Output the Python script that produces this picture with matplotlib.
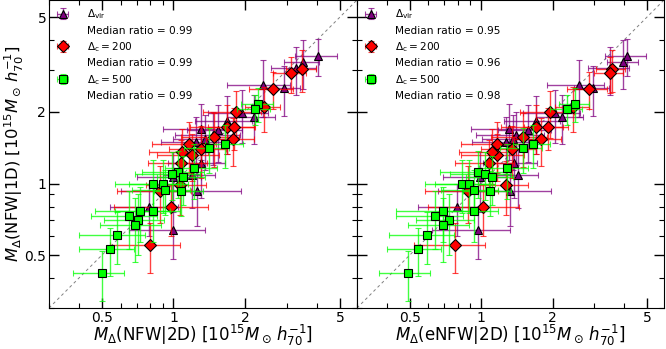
import matplotlib
matplotlib.use('Agg')
import matplotlib.pyplot as plt
from matplotlib.lines import Line2D
from matplotlib.ticker import FixedLocator, FixedFormatter, LogLocator, NullFormatter

# masses in 10^15 M_sun h70^-1, M(NFW|1D) is shared by both panels
vir_y = [3.43, 3.24, 3.06, 2.60, 2.52, 1.98, 1.91, 1.83, 1.70, 1.68, 1.60,
         1.54, 1.50, 1.22, 1.09, 1.06, 0.93, 0.80, 0.64]
vir_yerr = [0.60, 0.75, 0.70, 0.70, 0.60, 0.50, 0.45, 0.50, 0.45, 0.45, 0.40,
            0.40, 0.40, 0.35, 0.30, 0.30, 0.27, 0.20, 0.16]
vir_x_nfw = [4.04, 3.50, 3.27, 2.38, 2.91, 1.94, 2.18, 1.68, 1.30, 1.54, 1.46,
             1.35, 1.24, 1.30, 1.20, 1.00, 1.26, 0.79, 1.00]
vir_x_enfw = [4.14, 3.98, 3.51, 2.59, 2.96, 2.05, 2.20, 1.70, 1.31, 1.58, 1.40,
              1.36, 1.27, 1.37, 1.43, 0.99, 1.32, 0.79, 0.97]
vir_xerr = [0.80, 0.60, 0.70, 0.70, 0.50, 0.55, 0.50, 0.45, 0.40, 0.40, 0.45,
            0.35, 0.35, 0.35, 0.30, 0.30, 0.66, 0.25, 0.35]

c200_y = [3.03, 2.91, 2.50, 2.10, 2.00, 1.73, 1.73, 1.54, 1.57, 1.40, 1.46,
          1.32, 1.35, 1.22, 0.99, 0.93, 0.80, 0.55]
c200_yerr = [0.60, 0.50, 0.45, 0.45, 0.45, 0.40, 0.35, 0.35, 0.40, 0.35, 0.35,
             0.30, 0.35, 0.30, 0.25, 0.25, 0.20, 0.13]
c200_x_nfw = [3.47, 3.12, 2.62, 2.40, 1.83, 1.67, 1.80, 1.77, 1.48, 1.31, 1.16,
              1.20, 1.09, 1.08, 1.07, 0.88, 0.98, 0.80]
c200_x_enfw = [3.55, 3.48, 2.85, 2.44, 1.96, 1.71, 1.92, 1.78, 1.50, 1.35, 1.17,
               1.17, 1.11, 1.08, 1.27, 0.88, 1.02, 0.78]
c200_xerr = [0.50, 0.50, 0.55, 0.40, 0.50, 0.50, 0.40, 0.40, 0.40, 0.35, 0.35,
             0.35, 0.30, 0.30, 0.30, 0.30, 0.42, 0.26]

c500_y = [2.16, 2.06, 1.46, 1.41, 1.16, 1.12, 1.10, 1.06, 1.00, 1.00, 0.94,
          0.93, 0.77, 0.77, 0.73, 0.70, 0.67, 0.61, 0.53, 0.42]
c500_yerr = [0.35, 0.30, 0.30, 0.30, 0.30, 0.25, 0.25, 0.25, 0.25, 0.25, 0.20,
             0.20, 0.20, 0.20, 0.20, 0.20, 0.20, 0.15, 0.12, 0.10]
c500_x_nfw = [2.27, 2.20, 1.65, 1.41, 1.22, 1.04, 0.99, 1.10, 0.82, 0.90, 0.92,
              1.08, 0.72, 0.82, 0.65, 0.71, 0.69, 0.58, 0.54, 0.50]
c500_x_enfw = [2.49, 2.30, 1.66, 1.50, 1.28, 0.97, 1.04, 1.11, 0.83, 0.89, 0.93,
               1.09, 0.69, 0.93, 0.64, 0.73, 0.69, 0.59, 0.54, 0.49]
c500_xerr = [0.35, 0.35, 0.30, 0.30, 0.30, 0.30, 0.30, 0.25, 0.25, 0.25, 0.25,
             0.25, 0.25, 0.25, 0.20, 0.20, 0.20, 0.18, 0.14, 0.12]

median_nfw = [0.99, 0.99, 0.99]
median_enfw = [0.95, 0.96, 0.98]

labels = [r'$\Delta_{\rm vir}$', r'$\Delta_{\rm c}=200$', r'$\Delta_{\rm c}=500$']
xlabels = [r'$M_\Delta$(NFW$|$2D) [$10^{15}M_\odot\,h_{70}^{-1}$]',
           r'$M_\Delta$(eNFW$|$2D) [$10^{15}M_\odot\,h_{70}^{-1}$]']
ylabel = r'$M_\Delta$(NFW$|$1D) [$10^{15}M_\odot\,h_{70}^{-1}$]'

lim = (0.3, 5.9)
major = [0.5, 1, 2, 5]


def panel(ax, xs, medians, xlabel):
    ax.set_xscale('log')
    ax.set_yscale('log')
    ax.plot(lim, lim, ls='--', color='gray', lw=0.7, dashes=(3, 3), zorder=0)
    series = [
        (xs[0], vir_xerr, vir_y, vir_yerr, '^', 'purple', 6),
        (xs[1], c200_xerr, c200_y, c200_yerr, 'D', 'red', 6),
        (xs[2], c500_xerr, c500_y, c500_yerr, 's', '#00ff00', 6),
    ]
    handles = []
    names = []
    for i, (x, xe, y, ye, m, c, ms) in enumerate(series):
        eb = ax.errorbar(x, y, xerr=xe, yerr=ye, fmt=m, color=c, mfc=c,
                         mec='black', mew=0.8, ms=ms, ecolor=c, elinewidth=1,
                         capsize=2, capthick=1, zorder=2 + i)
        for lc in eb[2]:
            lc.set_alpha(0.75)
        for cl in eb[1]:
            cl.set_alpha(0.75)
        handles += [eb, Line2D([], [], ls='none', marker='none')]
        names += [labels[i], 'Median ratio = %.2f' % medians[i]]
    ax.legend(handles, names, loc='upper left', frameon=False, fontsize=7.6,
              handlelength=1.2, handletextpad=1.7, labelspacing=0.42,
              borderaxespad=0.3, numpoints=1)
    ax.set_xlim(lim)
    ax.set_ylim(lim)
    for axis in (ax.xaxis, ax.yaxis):
        axis.set_major_locator(FixedLocator(major))
        axis.set_major_formatter(FixedFormatter(['0.5', '1', '2', '5']))
        axis.set_minor_locator(LogLocator(base=10, subs=(3, 4, 6, 7, 8, 9)))
        axis.set_minor_formatter(NullFormatter())
    ax.tick_params(which='both', direction='in', top=True, right=True, labelsize=10)
    ax.tick_params(which='major', length=7, width=1, pad=2)
    ax.tick_params(which='minor', length=3.5, width=0.8)
    ax.set_xlabel(xlabel, fontsize=12)
    ax.xaxis.set_label_coords(0.5, -0.05)


fig = plt.figure(figsize=(6.66, 3.49), dpi=100)
ax1 = fig.add_axes([49 / 666, 41 / 349, 308 / 666, 308 / 349])
ax2 = fig.add_axes([357 / 666, 41 / 349, 307 / 666, 308 / 349])

panel(ax1, [vir_x_nfw, c200_x_nfw, c500_x_nfw], median_nfw, xlabels[0])
panel(ax2, [vir_x_enfw, c200_x_enfw, c500_x_enfw], median_enfw, xlabels[1])
ax1.set_ylabel(ylabel, fontsize=11.8)
ax1.yaxis.set_label_coords(-0.074, 0.5)
ax2.tick_params(labelleft=False)

fig.savefig('out.png', dpi=100)
